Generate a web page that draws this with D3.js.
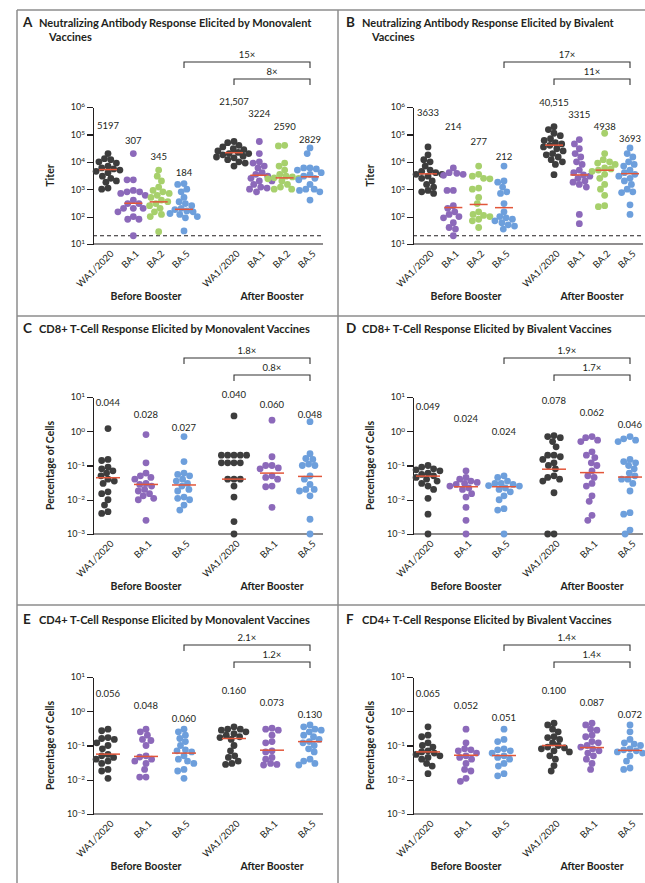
<!DOCTYPE html>
<meta charset="utf-8">
<script src="https://cdn.jsdelivr.net/npm/d3@7"></script>
<style type="text/css">
    body { margin: 0; background: #fff; }
    svg text { font-family: Lato, "Open Sans", sans-serif; fill: #231f20; }
    .title { font-weight: bold; font-size: 11.5px; }
    .letter { font-weight: bold; font-size: 13.5px; }
    .tick text { font-size: 9px; }
    .axis path, .axis line { stroke: #231f20; stroke-width: 1.2; shape-rendering: crispEdges; }
    .value { font-size: 9.5px; text-anchor: middle; }
    .cat { font-size: 9.5px; }
    .group { font-size: 10.5px; font-weight: bold; text-anchor: middle; }
    .ylab { font-size: 10.5px; font-weight: bold; text-anchor: middle; }
    .frame { stroke: #8c8c8c; stroke-width: 1.5; }
</style>
<body>
<script>
    // categories
    var nabStrains = ["WA1/2020", "BA.1", "BA.2", "BA.5"];
    var tcellStrains = ["WA1/2020", "BA.1", "BA.5"];
    var boosterGroups = ["Before Booster", "After Booster"];

    // A - neutralizing antibody, monovalent (one list per strain)
    var monoNabBefore = [
        [20000, 13000, 12000, 10000, 9000, 7000, 6000, 5500, 5000, 4500, 4000, 3000, 2500, 2000, 1800, 1100, 1000],
        [20000, 2200, 2200, 900, 800, 800, 700, 600, 400, 300, 300, 200, 200, 200, 150, 100, 80, 80, 20],
        [5000, 3000, 2000, 1200, 900, 800, 700, 600, 500, 400, 350, 300, 250, 200, 150, 120, 100, 28],
        [1600, 1500, 1000, 800, 500, 350, 300, 250, 200, 180, 160, 150, 130, 120, 100, 90, 30]
    ];
    var monoNabAfter = [
        [55000, 50000, 40000, 35000, 30000, 28000, 25000, 22000, 20000, 20000, 18000, 16000, 15000, 14000, 12000, 10000, 9000, 7000],
        [55000, 20000, 10000, 9000, 7000, 6000, 4000, 3500, 3000, 2500, 2000, 2000, 1500, 1200, 1100, 1000, 800],
        [40000, 38000, 9000, 7000, 5000, 3500, 3000, 2800, 2600, 2500, 2400, 2000, 1500, 1200, 1000, 1000],
        [32000, 20000, 6000, 6000, 5500, 5000, 4000, 3500, 3000, 2500, 2200, 1500, 1000, 1000, 900, 800, 400]
    ];
    var monoNabGmt = [5197, 307, 345, 184, 21507, 3224, 2590, 2829];
    var monoNabFold = ["15×", "8×"];

    // B - neutralizing antibody, bivalent
    var biNabBefore = [
        [35000, 18000, 12000, 10000, 7000, 5000, 4500, 4000, 3500, 3500, 3000, 2500, 2000, 1500, 1200, 900, 800, 700],
        [6000, 4000, 3800, 3500, 3200, 900, 900, 250, 200, 150, 120, 100, 90, 60, 40, 35, 20],
        [7000, 3500, 3000, 2500, 2400, 1100, 1000, 500, 300, 150, 120, 110, 100, 80, 70, 40],
        [7000, 2000, 1800, 1200, 800, 700, 300, 150, 100, 90, 80, 70, 60, 50, 45, 35]
    ];
    var biNabAfter = [
        [190000, 150000, 110000, 90000, 70000, 60000, 50000, 45000, 40000, 35000, 30000, 25000, 20000, 18000, 15000, 12000, 10000, 8000, 3400],
        [65000, 45000, 30000, 20000, 15000, 10000, 8000, 5000, 4000, 3300, 3000, 2500, 2000, 1800, 1500, 1200, 120, 55],
        [110000, 20000, 12000, 10000, 9000, 8000, 6000, 5500, 5000, 4500, 3500, 2500, 1500, 1000, 600, 250, 230],
        [32000, 20000, 15000, 10000, 8000, 7000, 5000, 4000, 3500, 3000, 2500, 2000, 1500, 1000, 800, 750, 270, 120]
    ];
    var biNabGmt = [3633, 214, 277, 212, 40515, 3315, 4938, 3693];
    var biNabFold = ["17×", "11×"];

    // C - CD8+ T cells, monovalent
    var monoCd8Before = [
        [1.2, 0.15, 0.14, 0.09, 0.08, 0.07, 0.06, 0.05, 0.04, 0.035, 0.03, 0.017, 0.015, 0.01, 0.007, 0.0045, 0.004],
        [0.8, 0.12, 0.06, 0.05, 0.045, 0.04, 0.03, 0.028, 0.025, 0.02, 0.018, 0.015, 0.013, 0.011, 0.01, 0.0025],
        [0.7, 0.13, 0.06, 0.055, 0.05, 0.04, 0.035, 0.03, 0.025, 0.02, 0.018, 0.012, 0.011, 0.01, 0.007, 0.005]
    ];
    var monoCd8After = [
        [2.8, 0.2, 0.2, 0.2, 0.2, 0.2, 0.12, 0.12, 0.12, 0.12, 0.04, 0.04, 0.04, 0.025, 0.012, 0.0023, 0.001],
        [2.1, 0.18, 0.1, 0.1, 0.085, 0.08, 0.05, 0.045, 0.04, 0.025, 0.024, 0.006],
        [1.9, 0.22, 0.16, 0.15, 0.11, 0.1, 0.1, 0.05, 0.04, 0.028, 0.02, 0.02, 0.018, 0.013, 0.0027, 0.001]
    ];
    var monoCd8Median = [0.044, 0.028, 0.027, 0.040, 0.060, 0.048];
    var monoCd8Fold = ["1.8×", "0.8×"];

    // D - CD8+ T cells, bivalent
    var biCd8Before = [
        [0.1, 0.09, 0.08, 0.075, 0.07, 0.06, 0.055, 0.05, 0.045, 0.04, 0.035, 0.03, 0.025, 0.02, 0.011, 0.0038, 0.001],
        [0.07, 0.045, 0.04, 0.035, 0.032, 0.03, 0.028, 0.025, 0.022, 0.02, 0.015, 0.012, 0.006, 0.0025, 0.001],
        [0.05, 0.045, 0.035, 0.03, 0.03, 0.028, 0.026, 0.025, 0.022, 0.02, 0.017, 0.013, 0.01, 0.0055, 0.005, 0.001]
    ];
    var biCd8After = [
        [0.75, 0.7, 0.65, 0.5, 0.35, 0.2, 0.2, 0.18, 0.15, 0.12, 0.1, 0.08, 0.05, 0.045, 0.04, 0.035, 0.016, 0.001, 0.001],
        [0.7, 0.65, 0.55, 0.5, 0.25, 0.2, 0.17, 0.12, 0.1, 0.07, 0.05, 0.045, 0.03, 0.025, 0.013, 0.009, 0.0035, 0.0025],
        [0.7, 0.6, 0.55, 0.5, 0.15, 0.13, 0.12, 0.1, 0.08, 0.06, 0.05, 0.04, 0.04, 0.03, 0.018, 0.0042, 0.0038, 0.0013, 0.001]
    ];
    var biCd8Median = [0.049, 0.024, 0.024, 0.078, 0.062, 0.046];
    var biCd8Fold = ["1.9×", "1.7×"];

    // E - CD4+ T cells, monovalent
    var monoCd4Before = [
        [0.3, 0.27, 0.17, 0.16, 0.15, 0.12, 0.1, 0.08, 0.055, 0.05, 0.045, 0.04, 0.035, 0.03, 0.02, 0.018, 0.011],
        [0.3, 0.25, 0.2, 0.15, 0.14, 0.1, 0.05, 0.046, 0.04, 0.035, 0.03, 0.02, 0.012, 0.012],
        [0.3, 0.25, 0.2, 0.16, 0.13, 0.1, 0.075, 0.07, 0.065, 0.05, 0.04, 0.035, 0.03, 0.02, 0.018, 0.011]
    ];
    var monoCd4After = [
        [0.35, 0.3, 0.3, 0.28, 0.25, 0.22, 0.2, 0.18, 0.17, 0.15, 0.1, 0.07, 0.05, 0.045, 0.035, 0.03, 0.028],
        [0.32, 0.3, 0.28, 0.2, 0.13, 0.12, 0.07, 0.065, 0.045, 0.04, 0.03, 0.028, 0.027],
        [0.4, 0.35, 0.3, 0.28, 0.25, 0.2, 0.18, 0.15, 0.13, 0.12, 0.1, 0.08, 0.065, 0.04, 0.035, 0.03, 0.027]
    ];
    var monoCd4Median = [0.056, 0.048, 0.060, 0.160, 0.073, 0.130];
    var monoCd4Fold = ["2.1×", "1.2×"];

    // F - CD4+ T cells, bivalent
    var biCd4Before = [
        [0.35, 0.2, 0.18, 0.12, 0.1, 0.09, 0.07, 0.065, 0.06, 0.055, 0.05, 0.045, 0.04, 0.03, 0.025, 0.015],
        [0.3, 0.12, 0.08, 0.075, 0.07, 0.06, 0.05, 0.045, 0.04, 0.03, 0.02, 0.018, 0.011, 0.009],
        [0.3, 0.15, 0.13, 0.08, 0.075, 0.07, 0.06, 0.05, 0.045, 0.04, 0.03, 0.025, 0.015, 0.013]
    ];
    var biCd4After = [
        [0.45, 0.4, 0.3, 0.25, 0.18, 0.17, 0.15, 0.12, 0.1, 0.09, 0.085, 0.08, 0.07, 0.065, 0.05, 0.04, 0.026, 0.018],
        [0.45, 0.4, 0.3, 0.28, 0.2, 0.18, 0.13, 0.12, 0.1, 0.09, 0.08, 0.07, 0.06, 0.05, 0.04, 0.03, 0.02],
        [0.4, 0.25, 0.15, 0.12, 0.11, 0.1, 0.08, 0.075, 0.07, 0.065, 0.06, 0.05, 0.035, 0.022, 0.02]
    ];
    var biCd4Median = [0.065, 0.052, 0.051, 0.100, 0.087, 0.072];
    var biCd4Fold = ["1.4×", "1.4×"];

    var strainColor = {"WA1/2020": "#3d3d3d", "BA.1": "#8c69ba", "BA.2": "#a7d06c", "BA.5": "#6d9fdc"};

    // layout of the three rows
    var rows = [
        {titleY: 27, bracketY: [62, 79], top: 107, bottom: 244},
        {titleY: 333, bracketY: [358, 375], top: 397, bottom: 534},
        {titleY: 624, bracketY: [645, 662], top: 677, bottom: 814}
    ];

    var panels = [
        {letter: "A", title: ["Neutralizing Antibody Response Elicited by Monovalent", "Vaccines"], titleW: 273,
         row: 0, col: 0, strains: nabStrains, before: monoNabBefore, after: monoNabAfter, centers: monoNabGmt, fold: monoNabFold,
         ylab: "Titer", labelStart: [125, 101], labelStep: [15.7, 12.7]},
        {letter: "B", title: ["Neutralizing Antibody Response Elicited by Bivalent", "Vaccines"], titleW: 252,
         row: 0, col: 1, strains: nabStrains, before: biNabBefore, after: biNabAfter, centers: biNabGmt, fold: biNabFold,
         ylab: "Titer", labelStart: [112, 102], labelStep: [14.7, 12]},
        {letter: "C", title: ["CD8+ T-Cell Response Elicited by Monovalent Vaccines"], titleW: 271,
         row: 1, col: 0, strains: tcellStrains, before: monoCd8Before, after: monoCd8After, centers: monoCd8Median, fold: monoCd8Fold,
         ylab: "Percentage of Cells", labelStart: [402, 394], labelStep: [12.5, 10]},
        {letter: "D", title: ["CD8+ T-Cell Response Elicited by Bivalent Vaccines"], titleW: 250,
         row: 1, col: 1, strains: tcellStrains, before: biCd8Before, after: biCd8After, centers: biCd8Median, fold: biCd8Fold,
         ylab: "Percentage of Cells", labelStart: [406, 400], labelStep: [12.5, 12]},
        {letter: "E", title: ["CD4+ T-Cell Response Elicited by Monovalent Vaccines"], titleW: 271,
         row: 2, col: 0, strains: tcellStrains, before: monoCd4Before, after: monoCd4After, centers: monoCd4Median, fold: monoCd4Fold,
         ylab: "Percentage of Cells", labelStart: [693, 690], labelStep: [12.5, 12]},
        {letter: "F", title: ["CD4+ T-Cell Response Elicited by Bivalent Vaccines"], titleW: 250,
         row: 2, col: 1, strains: tcellStrains, before: biCd4Before, after: biCd4After, centers: biCd4Median, fold: biCd4Fold,
         ylab: "Percentage of Cells", labelStart: [693, 690], labelStep: [12, 12]}
    ];

    var W = 645, H = 883, r = 3.4;

    var svg = d3.select("body")
        .append("svg")
        .attr("width", W)
        .attr("height", H);

    // frame lines
    var frame = svg.append("g").attr("class", "frame");
    [[17, 10, W, 10], [17, 10, 17, H], [338, 10, 338, H], [17, 316, W, 316], [17, 605, W, 605]].forEach(function(l){
        frame.append("line").attr("x1", l[0]).attr("y1", l[1]).attr("x2", l[2]).attr("y2", l[3]);
    });

    // simple beeswarm: push dots sideways until they stop colliding
    function swarm(values, y, cx) {
        var pts = values.map(function(v){ return {v: v, y: y(v)}; })
            .sort(function(a, b){ return a.y - b.y; });
        var placed = [], d = 2 * r * 0.9;
        pts.forEach(function(p){
            for (var k = 0; k < 60; k++) {
                var off = (k % 2 === 0 ? 1 : -1) * Math.ceil(k / 2) * 0.7;
                var ok = placed.every(function(q){
                    var dx = q.x - (cx + off), dy = q.y - p.y;
                    return dx * dx + dy * dy >= d * d;
                });
                if (ok) { p.x = cx + off; break; }
            }
            if (p.x === undefined) p.x = cx;
            placed.push(p);
        });
        return placed;
    }

    function drawPanel(p) {
        var row = rows[p.row];
        var g = svg.append("g").attr("transform", "translate(" + (p.col * 320) + ",0)");
        var isNab = p.strains.length === 4;
        var n = p.strains.length;
        var axisX = 93, endX = 323;

        var y = d3.scaleLog()
            .domain(isNab ? [10, 1e6] : [1e-3, 10])
            .range([row.bottom, row.top]);
        var gx = d3.scalePoint().domain(boosterGroups).range([108, 234]);
        var sx = d3.scalePoint().domain(p.strains).range([0, 76]);
        var colX = function(gi, si){ return gx(boosterGroups[gi]) + sx(p.strains[si]); };

        // title
        var shift = p.col * 3;
        g.append("text").attr("class", "letter")
            .attr("x", 23 + shift).attr("y", row.titleY)
            .text(p.letter);
        var k = 1;
        p.title.forEach(function(line, i){
            var t = g.append("text").attr("class", "title").text(line);
            if (i === 0) {
                k = p.titleW / t.node().getComputedTextLength();
            }
            t.attr("transform", "translate(" + (39 + (i ? 10 : 0) + shift) + "," + (row.titleY + i * 14) + ") scale(" + k + ",1)");
        });

        // fold-change brackets
        var br = [[colX(0, n - 1), colX(1, n - 1)], [colX(1, 0), colX(1, n - 1)]];
        br.forEach(function(b, i){
            var by = row.bracketY[i];
            g.append("path")
                .attr("d", "M" + b[0] + "," + (by + 6) + "V" + by + "H" + b[1] + "V" + (by + 6))
                .attr("fill", "none").attr("stroke", "#333").attr("stroke-width", 1.1);
            g.append("text").attr("class", "value")
                .attr("x", (b[0] + b[1]) / 2).attr("y", by - 4)
                .text(p.fold[i]);
        });

        // y axis
        var decades = isNab ? [10, 100, 1e3, 1e4, 1e5, 1e6] : [1e-3, 1e-2, 1e-1, 1, 10];
        var ax = g.append("g").attr("class", "axis")
            .attr("transform", "translate(" + axisX + ",0)")
            .call(d3.axisLeft(y).tickValues(decades).tickSize(6).tickSizeOuter(0).tickPadding(2).tickFormat(""));
        ax.selectAll(".tick text").each(function(d){
            var t = d3.select(this);
            t.append("tspan").text("10");
            t.append("tspan").attr("dy", "-0.45em").style("font-size", "6.5px")
                .text(String(Math.round(Math.log10(d))).replace("-", "\u2212"));
        });
        ax.select(".domain").attr("stroke", "#231f20");

        // x axis baseline
        g.append("line")
            .attr("x1", axisX).attr("x2", endX)
            .attr("y1", row.bottom).attr("y2", row.bottom)
            .attr("stroke", "#231f20").attr("stroke-width", 1.2);

        // limit of detection
        if (isNab) {
            g.append("line")
                .attr("x1", axisX).attr("x2", endX)
                .attr("y1", y(20)).attr("y2", y(20))
                .attr("stroke", "#231f20").attr("stroke-width", 1)
                .attr("stroke-dasharray", "4,3");
        }

        g.append("text").attr("class", "ylab")
            .attr("transform", "translate(50," + ((row.top + row.bottom) / 2) + ") rotate(-90)")
            .attr("dy", "0.35em")
            .text(p.ylab);

        var lineW = isNab ? 18 : 24;
        [p.before, p.after].forEach(function(groupData, gi){
            groupData.forEach(function(vals, si){
                var cx = colX(gi, si);
                var strain = p.strains[si];
                var pts = swarm(vals, y, cx);
                g.selectAll(null)
                    .data(pts)
                    .enter()
                    .append("circle")
                    .attr("cx", function(d){ return d.x; })
                    .attr("cy", function(d){ return d.y; })
                    .attr("r", r)
                    .style("fill", strainColor[strain]);

                var c = p.centers[gi * n + si];
                g.append("line")
                    .attr("x1", cx - lineW / 2).attr("x2", cx + lineW / 2)
                    .attr("y1", y(c)).attr("y2", y(c))
                    .attr("stroke", "#e2563a").attr("stroke-width", 1.5);

                g.append("text").attr("class", "value")
                    .attr("x", cx)
                    .attr("y", p.labelStart[gi] + si * p.labelStep[gi] + 3.5)
                    .text(isNab ? (c >= 10000 ? d3.format(",")(c) : String(c)) : d3.format(".3f")(c));

                g.append("text").attr("class", "cat")
                    .attr("text-anchor", "end")
                    .attr("transform", "translate(" + (cx + 4) + "," + (row.bottom + 8) + ") rotate(-45)")
                    .attr("dy", "0.35em")
                    .text(strain);
            });

            g.append("text").attr("class", "group")
                .attr("x", colX(gi, 0) / 2 + colX(gi, n - 1) / 2)
                .attr("y", row.bottom + 56)
                .text(boosterGroups[gi]);
        });
    }

    panels.forEach(drawPanel);
</script>
</body>
